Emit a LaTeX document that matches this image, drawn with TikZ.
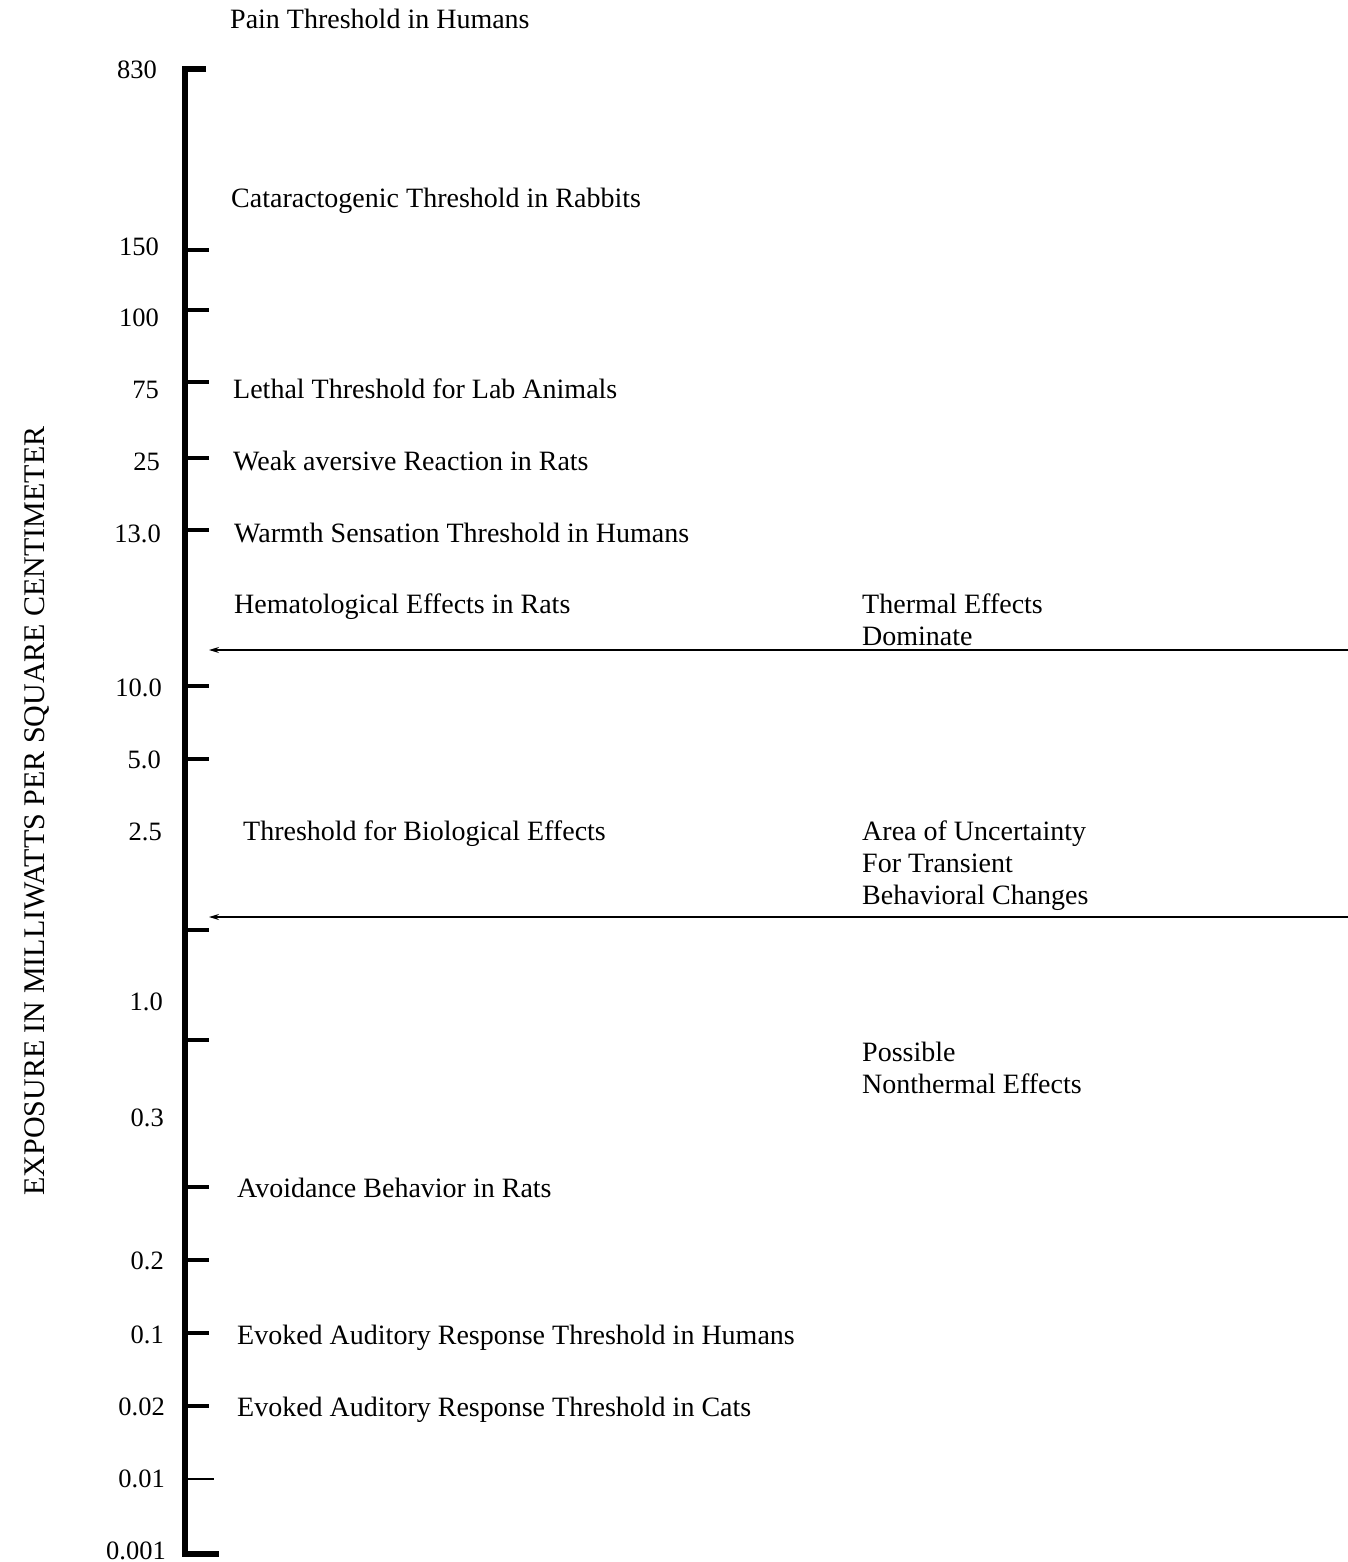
\documentclass[tikz,border=0pt]{standalone}
\usepackage{fontspec}
\setmainfont{Liberation Serif}
\usetikzlibrary{arrows.meta}
\begin{document}
\begin{tikzpicture}[x=1pt,y=-1pt,
  lbl/.style={anchor=base west,inner sep=0pt,font=\fontsize{28}{32}\selectfont},
  num/.style={anchor=base east,inner sep=0pt,font=\fontsize{26.5}{32}\selectfont},
  axisline/.style={line width=5.5pt},
  tick/.style={line width=4pt},
  thintick/.style={line width=1.2pt},
  bound/.style={line width=1.2pt,-{Stealth[length=10pt,width=6pt]}}]
\useasboundingbox (0,0) rectangle (1348,1562);
\fill[white] (0,0) rectangle (1348,1562);
% axis
\coordinate (top) at (185,69);
\coordinate (bot) at (185,1554);
\draw[axisline,line cap=butt] (206,69) -- (top) -- (bot) -- (219,1554);
% ticks
\foreach \yy in {250,310,382,458,530,686,759,930,1040,1187,1260,1333,1406}{
  \draw[tick] (187,\yy) -- (209,\yy);
}
\draw[thintick] (187,1479) -- (214,1479);
% numbers
\node[num] (n830) at (157,79) {830};
\node[num] (n150) at (159,255) {150};
\node[num] (n100) at (159,326) {100};
\node[num] (n75) at (159,398) {75};
\node[num] (n25) at (160,470) {25};
\node[num] (n13) at (161,542) {13.0};
\node[num] (n10) at (162,696) {10.0};
\node[num] (n5) at (161,768) {5.0};
\node[num] (n25b) at (162,840) {2.5};
\node[num] (n1) at (163,1010) {1.0};
\node[num] (n03) at (164,1126) {0.3};
\node[num] (n02) at (164,1269) {0.2};
\node[num] (n01) at (164,1343) {0.1};
\node[num] (n002) at (165,1415) {0.02};
\node[num] (n001) at (165,1487) {0.01};
\node[num] (n0001) at (166,1559) {0.001};
% effect labels
\node[lbl] (pain) at (230,29) {Pain Threshold in Humans};
\node[lbl] (cat) at (231,208) {Cataractogenic Threshold in Rabbits};
\node[lbl] (leth) at (233,398) {Lethal Threshold for Lab Animals};
\node[lbl] (weak) at (233,470) {Weak aversive Reaction in Rats};
\node[lbl] (warm) at (234,542) {Warmth Sensation Threshold in Humans};
\node[lbl] (hema) at (234,613) {Hematological Effects in Rats};
\node[lbl] (bio) at (243,840) {Threshold for Biological Effects};
\node[lbl] (avoid) at (237,1197) {Avoidance Behavior in Rats};
\node[lbl] (evh) at (237,1344) {Evoked Auditory Response Threshold in Humans};
\node[lbl] (evc) at (237,1416) {Evoked Auditory Response Threshold in Cats};
% right labels
\node[lbl] (th1) at (862,613) {Thermal Effects};
\node[lbl] (th2) at (862,645) {Dominate};
\node[lbl] (ar1) at (862,840) {Area of Uncertainty};
\node[lbl] (ar2) at (862,872) {For Transient};
\node[lbl] (ar3) at (862,904) {Behavioral Changes};
\node[lbl] (po1) at (862,1061) {Possible};
\node[lbl] (po2) at (862,1093) {Nonthermal Effects};
% boundary arrows
\coordinate (r1) at (1348,650);
\coordinate (l1) at (209,650);
\coordinate (r2) at (1348,917);
\coordinate (l2) at (209,917);
\draw[bound] (r1) -- (l1);
\draw[bound] (r2) -- (l2);
% axis title
\node[rotate=90,inner sep=0pt,font=\fontsize{30}{32}\selectfont] (ylab) at (37,811) {EXPOSURE IN MILLIWATTS PER SQUARE CENTIMETER};
\end{tikzpicture}
\end{document}
